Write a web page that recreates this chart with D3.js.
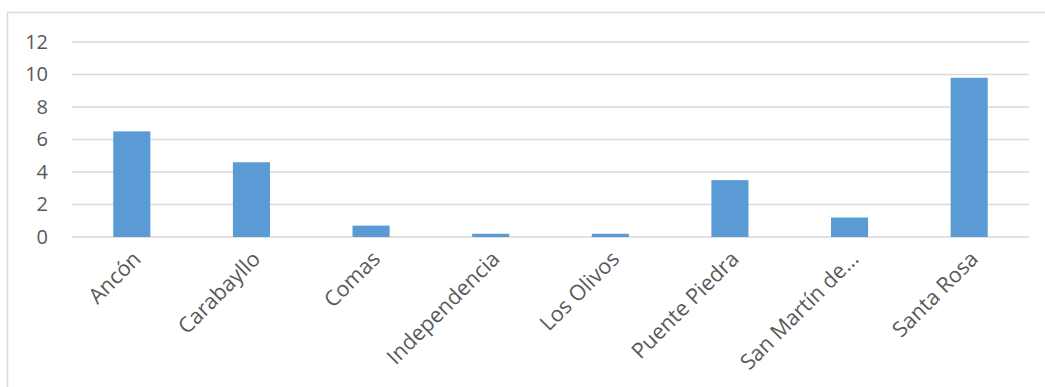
<!DOCTYPE html>
<html>
<head>
<meta charset="utf-8">
<script src="https://cdn.jsdelivr.net/npm/d3@7"></script>
<style>
  body { margin: 0; background: #fff; }
  svg { display: block; }
</style>
</head>
<body>
<svg width="1045" height="387"></svg>
<script>
var districts = ["Ancón", "Carabayllo", "Comas", "Independencia", "Los Olivos", "Puente Piedra", "San Martín de...", "Santa Rosa"];
var values = [6.5, 4.6, 0.7, 0.2, 0.2, 3.5, 1.2, 9.8];
var yTicks = [0, 2, 4, 6, 8, 10, 12];

var svg = d3.select("svg");

// chart border (cut off at right and bottom in the original)
svg.append("rect")
  .attr("x", 7.5)
  .attr("y", 12.5)
  .attr("width", 1100)
  .attr("height", 500)
  .attr("fill", "none")
  .attr("stroke", "#d9d9d9")
  .attr("stroke-width", 1.5);

var x = d3.scaleBand()
  .domain(districts)
  .range([72, 1029])
  .paddingInner(0.69)
  .paddingOuter(0.345);

var y = d3.scaleLinear()
  .domain([0, 12])
  .range([237, 42]);

// gridlines
svg.append("g")
  .selectAll("line")
  .data(yTicks)
  .enter()
  .append("line")
  .attr("x1", 72)
  .attr("x2", 1029)
  .attr("y1", function (d) { return y(d) })
  .attr("y2", function (d) { return y(d) })
  .attr("stroke", "#d9d9d9")
  .attr("stroke-width", 1.5);

// bars
svg.append("g")
  .selectAll("rect")
  .data(values)
  .enter()
  .append("rect")
  .attr("x", function (d, i) { return x(districts[i]) })
  .attr("y", function (d) { return y(d) })
  .attr("width", x.bandwidth())
  .attr("height", function (d) { return y(0) - y(d) })
  .attr("fill", "#5b9bd5");

// y axis labels
var yAxis = d3.axisLeft(y).tickValues(yTicks).tickSize(0).tickPadding(0);
svg.append("g")
  .attr("transform", "translate(48,0)")
  .call(yAxis)
  .call(function (g) { g.select(".domain").remove() })
  .selectAll("text")
  .attr("fill", "#595959")
  .style("font-family", "'Open Sans', sans-serif")
  .style("font-size", "20px");

// category labels
svg.append("g")
  .selectAll("text")
  .data(districts)
  .enter()
  .append("text")
  .attr("transform", function (d) {
    return "translate(" + (x(d) + x.bandwidth() / 2 + 5) + ",255) rotate(-45)";
  })
  .attr("text-anchor", "end")
  .attr("dy", "0.35em")
  .attr("fill", "#595959")
  .style("font-family", "'Open Sans', sans-serif")
  .style("font-size", "21.5px")
  .text(function (d) { return d });
</script>
</body>
</html>
